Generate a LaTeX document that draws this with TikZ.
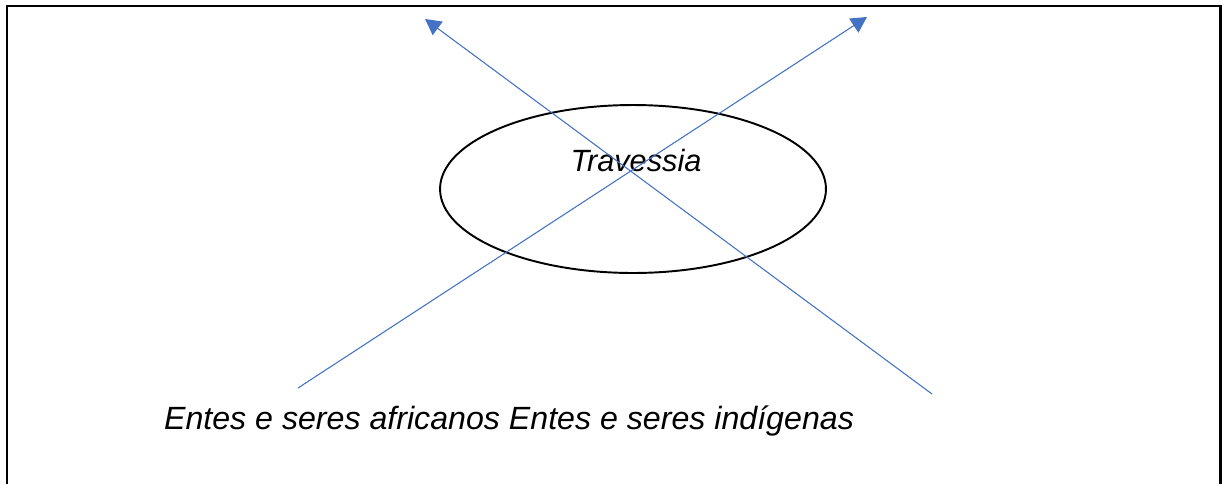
\documentclass[tikz,border=0pt]{standalone}
\usepackage{fontspec}
\setmainfont{Liberation Sans}
\usepackage{tikz}
\usetikzlibrary{calc, arrows, shapes, arrows.meta}
\definecolor{arrowblue}{HTML}{4472C4}
\tikzset{>={Triangle[length=9pt,width=9.5pt]}}
\tikzset{crossing/.style={->, draw=arrowblue, fill=arrowblue, line width=0.6pt}}

\begin{document}
\begin{tikzpicture}[x=0.02cm, y=-0.02cm]
\useasboundingbox (0,0) rectangle (1222,484);
% frame, open at the bottom
\draw[line width=1.7pt] (7,484) -- (7,6) -- (1220,6) -- (1220,484);

\node[ellipse, draw, line width=1.1pt, minimum width=7.72cm, minimum height=3.36cm, inner sep=0pt] (ring) at (633,189) {};
\node[font=\fontsize{17.5pt}{20pt}\selectfont\itshape] (travessia) at (636,161) {Travessia};
\node[font=\fontsize{18.3pt}{22pt}\selectfont\itshape] (entes) at (509,421) {Entes e seres africanos Entes e seres indígenas};

\coordinate (afr) at (298,388);
\coordinate (afrtip) at (867,17);
\coordinate (ind) at (932,394);
\coordinate (indtip) at (425,19);

\draw[crossing] (afr) -- (afrtip);
\draw[crossing] (ind) -- (indtip);
\end{tikzpicture}
\end{document}
